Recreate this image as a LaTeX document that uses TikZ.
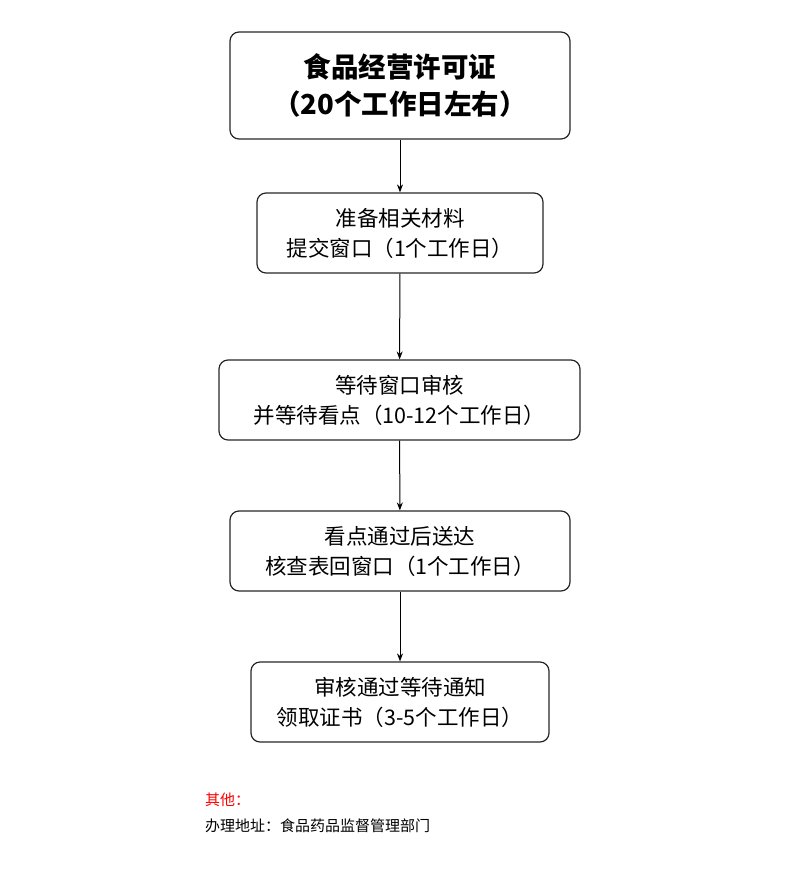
\documentclass[tikz,border=0pt]{standalone}
\usepackage{fontspec}
\setmainfont{Noto Sans CJK SC}
\usetikzlibrary{arrows.meta}
\begin{document}
\begin{tikzpicture}[x=1pt,y=-1pt,
 box/.style={draw=black!85,line width=1.2pt,rounded corners=9pt,align=center,inner sep=0pt,font=\fontsize{21.5}{30}\selectfont},
 arr/.style={-{Stealth[length=8pt,width=6pt]},line width=1pt}]
\useasboundingbox (0,0) rectangle (800,875);
\node[box,minimum width=340pt,minimum height=107pt,font=\fontsize{27.5}{37}\selectfont\bfseries] (a) at (400,85.5) {食品经营许可证\\（20个工作日左右）};
\node[box,minimum width=286pt,minimum height=80pt] (b) at (400,233) {准备相关材料\\提交窗口（1个工作日）};
\node[box,minimum width=361pt,minimum height=80pt] (c) at (399.5,400) {等待窗口审核\\并等待看点（10-12个工作日）};
\node[box,minimum width=340pt,minimum height=80pt] (d) at (400,551) {看点通过后送达\\核查表回窗口（1个工作日）};
\node[box,minimum width=298pt,minimum height=80pt] (e) at (400,702) {审核通过等待通知\\领取证书（3-5个工作日）};
\draw[arr] (a) -- (b);
\draw[arr] (b) -- (c);
\draw[arr] (c) -- (d);
\draw[arr] (d) -- (e);
\node[anchor=west,text=red,font=\fontsize{15}{18}\selectfont,inner sep=0pt] (n1) at (205,800) {其他：};
\node[anchor=west,font=\fontsize{15}{18}\selectfont,inner sep=0pt] (n2) at (205,826) {办理地址：食品药品监督管理部门};
\end{tikzpicture}
\end{document}
